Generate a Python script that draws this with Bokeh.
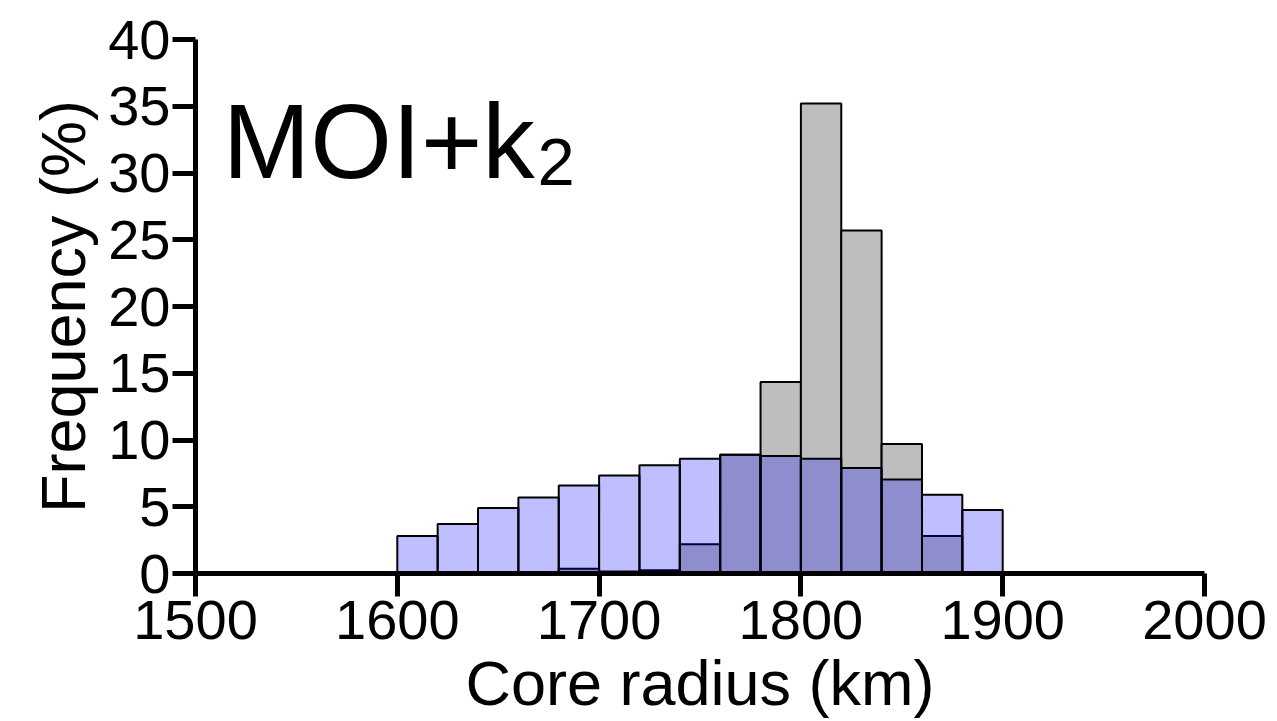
from bokeh.plotting import figure
from bokeh.models import Range1d, FixedTicker, Label
from bokeh.embed import file_html
from bokeh.resources import INLINE

# Core radius bins (km), 20-km wide
blue_left = [1600, 1620, 1640, 1660, 1680, 1700, 1720, 1740, 1760, 1780, 1800, 1820, 1840, 1860, 1880]
blue_freq = [2.8, 3.7, 4.9, 5.7, 6.6, 7.35, 8.1, 8.6, 8.9, 8.8, 8.6, 7.9, 7.05, 5.9, 4.75]

gray_left = [1680, 1700, 1720, 1740, 1760, 1780, 1800, 1820, 1840, 1860]
gray_freq = [0.35, 0.15, 0.25, 2.2, 8.9, 14.35, 35.2, 25.7, 9.7, 2.8]

bin_width = 20
x_ticks = [1500, 1600, 1700, 1800, 1900, 2000]
y_ticks = [0, 5, 10, 15, 20, 25, 30, 35, 40]

FONT = "Liberation Sans"

p = figure(width=1277, height=721, output_backend="svg", toolbar_location=None,
           x_range=Range1d(1500, 2000), y_range=Range1d(0, 40),
           min_border_left=195, min_border_right=73, min_border_top=39, min_border_bottom=148)
p.outline_line_color = None
p.xgrid.visible = False
p.ygrid.visible = False
p.background_fill_color = "white"
p.border_fill_color = "white"

p.quad(left=gray_left, right=[l + bin_width for l in gray_left], bottom=0, top=gray_freq,
       fill_color="#BEBEBE", line_color="black", line_width=2)
p.quad(left=blue_left, right=[l + bin_width for l in blue_left], bottom=0, top=blue_freq,
       fill_color="#0000FF", fill_alpha=0.25, line_color="black", line_width=2)

for ax in (p.xaxis[0], p.yaxis[0]):
    ax.axis_line_width = 5
    ax.major_tick_line_width = 5
    ax.major_tick_in = 0
    ax.minor_tick_line_color = None
    ax.major_label_text_font = FONT
    ax.major_label_text_font_size = "56px"
    ax.major_label_text_color = "black"
    ax.axis_label_text_font = FONT
    ax.axis_label_text_font_size = "63px"
    ax.axis_label_text_font_style = "normal"
    ax.axis_label_text_color = "black"

p.xaxis.ticker = FixedTicker(ticks=x_ticks)
p.yaxis.ticker = FixedTicker(ticks=y_ticks)
p.xaxis.major_tick_out = 23
p.yaxis.major_tick_out = 23
p.xaxis.major_label_standoff = 4
p.yaxis.major_label_standoff = 2
p.xaxis.axis_label = "Core radius (km)"
p.yaxis.axis_label = "Frequency (%)"
p.xaxis.axis_label_standoff = 6
p.yaxis.axis_label_standoff = 7

p.add_layout(Label(x=1513.5, y=32.35, text="MOI+k", text_font=FONT,
                   text_font_size="105px", text_color="black", text_baseline="alphabetic"))
p.add_layout(Label(x=1669.5, y=30.8, text="2", text_font=FONT,
                   text_font_size="67px", text_color="black", text_baseline="alphabetic"))

open("out.html", "w").write(file_html(p, INLINE))
